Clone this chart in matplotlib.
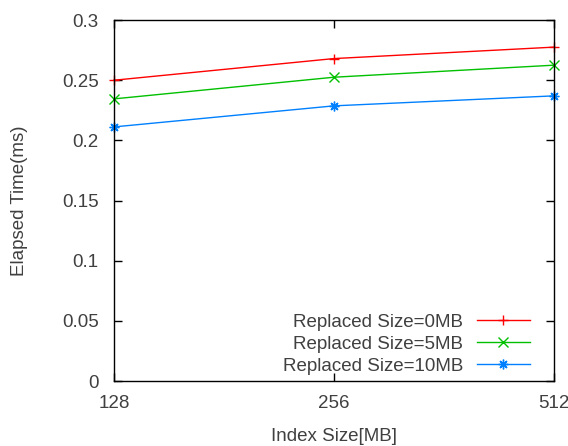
import matplotlib
matplotlib.use("Agg")
import matplotlib.pyplot as plt
from matplotlib.ticker import FixedLocator, FixedFormatter, NullLocator

plt.rcParams['font.family'] = ['Liberation Sans', 'DejaVu Sans']

index_sizes = [128, 256, 512]
x_labels = ["128", "256", "512"]
series_names = ["Replaced Size=0MB", "Replaced Size=5MB", "Replaced Size=10MB"]
rep_0mb = [0.250, 0.268, 0.2775]
rep_5mb = [0.2345, 0.2525, 0.2625]
rep_10mb = [0.2112, 0.2287, 0.2370]
y_ticks = [0, 0.05, 0.1, 0.15, 0.2, 0.25, 0.3]
y_labels = ["0", "0.05", "0.1", "0.15", "0.2", "0.25", "0.3"]

colors = ["#ff0000", "#00c000", "#0080ff"]
markers = ["+", "x", (8, 2, 0)]
text_color = "#404040"
fs = 13.5

fig = plt.figure(figsize=(5.68, 4.46), dpi=100)
ax = fig.add_axes([0.2007, 0.1457, 0.7743, 0.8093])

for vals, name, c, m in zip([rep_0mb, rep_5mb, rep_10mb], series_names, colors, markers):
    ax.plot(index_sizes, vals, color=c, marker=m, markersize=7, markeredgewidth=1.0,
            linewidth=1.0, label=name, clip_on=False)

ax.set_xscale('log', base=2)
ax.set_xlim(128, 512)
ax.set_ylim(0, 0.3)
ax.xaxis.set_major_locator(FixedLocator(index_sizes))
ax.xaxis.set_major_formatter(FixedFormatter(x_labels))
ax.xaxis.set_minor_locator(NullLocator())
ax.set_yticks(y_ticks)
ax.set_yticklabels(y_labels)

ax.tick_params(axis='both', which='major', direction='in', length=6, width=1,
               top=True, right=True, labelsize=fs, labelcolor=text_color, color='black')
ax.tick_params(axis='x', pad=10)
ax.tick_params(axis='y', pad=11)
for s in ax.spines.values():
    s.set_linewidth(1.0)
    s.set_color('black')

ax.set_xlabel("Index Size[MB]", fontsize=fs, color=text_color)
ax.set_ylabel("Elapsed Time(ms)", fontsize=fs, color=text_color)
ax.xaxis.set_label_coords(0.5, -0.129)
ax.yaxis.set_label_coords(-0.195, 0.5)

leg = ax.legend(loc='lower right', frameon=False, markerfirst=False, fontsize=fs,
                handlelength=2.8, handletextpad=0.75, labelspacing=0.25, borderpad=0,
                borderaxespad=0, bbox_to_anchor=(0.945, 0.018))
for t in leg.get_texts():
    t.set_color(text_color)

fig.savefig("out.png", dpi=100)
